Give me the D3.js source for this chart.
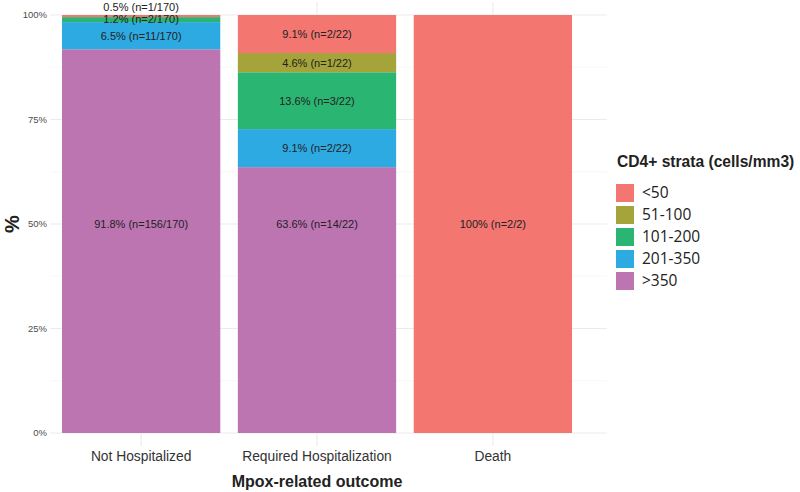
<!DOCTYPE html>
<html>
<head>
<meta charset="utf-8">
<script src="https://cdn.jsdelivr.net/npm/d3@7"></script>
<style>
  body { margin: 0; background: #fff; }
  text { font-family: "Liberation Sans", Arial, sans-serif; }
</style>
</head>
<body>
<svg id="chart" width="800" height="492"></svg>
<script>
// outcome categories and CD4 strata (stack order top -> bottom)
var outcomes = ["Not Hospitalized", "Required Hospitalization", "Death"];
var strata = ["<50", "51-100", "101-200", "201-350", ">350"];
var strataColors = ["#F37671", "#A5A43A", "#2BB573", "#2DAAE1", "#BD75B2"];

// percent per stratum, same order as strata
var pctNotHosp = [0.5, 0, 1.2, 6.5, 91.8];
var pctHosp = [9.1, 4.6, 13.6, 9.1, 63.6];
var pctDeath = [100, 0, 0, 0, 0];

// counts per stratum
var nNotHosp = [1, 0, 2, 11, 156];
var nHosp = [2, 1, 3, 2, 14];
var nDeath = [2, 0, 0, 0, 0];
var totals = [170, 22, 2];

var yTicks = [0, 25, 50, 75, 100];
var yMinor = [12.5, 37.5, 62.5, 87.5];

var pcts = [pctNotHosp, pctHosp, pctDeath];
var counts = [nNotHosp, nHosp, nDeath];

var svg = d3.select("#chart");

var panel = {left: 50, right: 607, top: 2, bottom: 446};

var x = d3.scaleBand()
  .domain(outcomes)
  .range([53.2, 580.8])
  .paddingInner(0.1)
  .paddingOuter(0.05);

var y = d3.scaleLinear().domain([0, 100]).range([433, 15]);

// grid
var grid = svg.append("g");
grid.selectAll("line.minor")
  .data(yMinor).enter().append("line")
  .attr("x1", panel.left).attr("x2", panel.right)
  .attr("y1", d => y(d)).attr("y2", d => y(d))
  .attr("stroke", "#F3F3F3").attr("stroke-width", 0.6);
grid.selectAll("line.major")
  .data(yTicks).enter().append("line")
  .attr("x1", panel.left).attr("x2", panel.right)
  .attr("y1", d => y(d)).attr("y2", d => y(d))
  .attr("stroke", "#EBEBEB").attr("stroke-width", 1.1);
grid.selectAll("line.vert")
  .data(outcomes).enter().append("line")
  .attr("x1", d => x(d) + x.bandwidth() / 2).attr("x2", d => x(d) + x.bandwidth() / 2)
  .attr("y1", panel.top).attr("y2", panel.bottom)
  .attr("stroke", "#EBEBEB").attr("stroke-width", 1.1);

// build stacked rows
var rows = outcomes.map(function(o, i) {
  var row = {outcome: o};
  strata.forEach(function(s, j) { row[s] = pcts[i][j]; });
  return row;
});

var stack = d3.stack().keys(strata.slice().reverse());
var series = stack(rows);

var color = d3.scaleOrdinal().domain(strata).range(strataColors);

var bars = svg.append("g");
series.forEach(function(ser) {
  bars.selectAll(null)
    .data(ser.filter(d => d[1] - d[0] > 0))
    .enter().append("rect")
    .attr("x", d => x(d.data.outcome))
    .attr("width", x.bandwidth())
    .attr("y", d => y(d[1]))
    .attr("height", d => y(d[0]) - y(d[1]))
    .attr("fill", color(ser.key));
});

// segment labels
var labels = svg.append("g");
series.forEach(function(ser) {
  var j = strata.indexOf(ser.key);
  ser.forEach(function(d) {
    var v = d[1] - d[0];
    if (v <= 0) return;
    var i = outcomes.indexOf(d.data.outcome);
    var txt = (v === 100 ? "100" : v.toFixed(1)) + "% (n=" + counts[i][j] + "/" + totals[i] + ")";
    var mid = Math.max((d[0] + d[1]) / 2, 50);
    var cy = y(mid);
    if (v < 1) cy = y(d[1]) - 8;
    labels.append("text")
      .attr("x", x(d.data.outcome) + x.bandwidth() / 2)
      .attr("y", cy)
      .attr("dy", "0.35em")
      .attr("text-anchor", "middle")
      .attr("font-size", 11)
      .attr("fill", "#222")
      .text(txt);
  });
});

// y axis labels
svg.append("g").selectAll("text")
  .data(yTicks).enter().append("text")
  .attr("x", 47)
  .attr("y", d => y(d))
  .attr("dy", "0.35em")
  .attr("text-anchor", "end")
  .attr("font-size", 9.5)
  .attr("fill", "#4D4D4D")
  .text(d => d + "%");

// x axis labels
svg.append("g").selectAll("text")
  .data(outcomes).enter().append("text")
  .attr("x", d => x(d) + x.bandwidth() / 2)
  .attr("y", 456)
  .attr("dy", "0.35em")
  .attr("text-anchor", "middle")
  .attr("font-size", 13.8)
  .attr("fill", "#333")
  .text(d => d);

// axis titles
svg.append("text")
  .attr("x", 317)
  .attr("y", 481)
  .attr("dy", "0.35em")
  .attr("text-anchor", "middle")
  .attr("font-size", 16)
  .attr("font-weight", "bold")
  .attr("fill", "#222")
  .text("Mpox-related outcome");

svg.append("text")
  .attr("transform", "translate(12," + y(50) + ") rotate(-90)")
  .attr("dy", "0.35em")
  .attr("text-anchor", "middle")
  .attr("font-size", 20)
  .attr("font-weight", "bold")
  .attr("fill", "#222")
  .text("%");

// legend
var legend = svg.append("g").attr("transform", "translate(616,0)");
legend.append("text")
  .attr("x", 1).attr("y", 162)
  .attr("dy", "0.35em")
  .attr("font-size", 15.6)
  .attr("font-weight", "bold")
  .attr("fill", "#222")
  .text("CD4+ strata (cells/mm3)");

var items = legend.selectAll("g.item")
  .data(strata).enter().append("g")
  .attr("transform", (d, i) => "translate(0," + (184 + i * 22) + ")");
items.append("rect")
  .attr("width", 18).attr("height", 18)
  .attr("fill", d => color(d));
items.append("text")
  .attr("x", 26).attr("y", 9)
  .attr("dy", "0.35em")
  .attr("font-size", 15.5)
  .attr("fill", "#222")
  .style("font-family", "'Open Sans', sans-serif")
  .text(d => d);
</script>
</body>
</html>
